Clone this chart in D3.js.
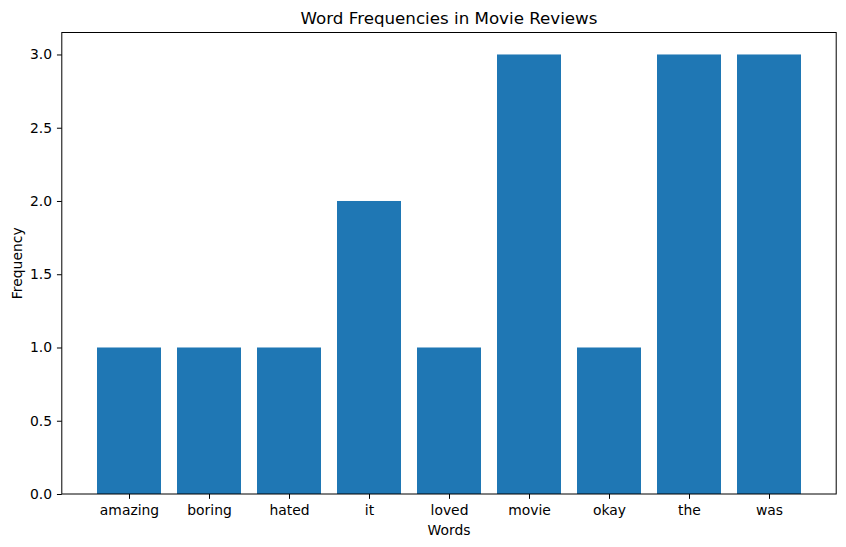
<!DOCTYPE html>
<html><head><meta charset="utf-8">
<script src="https://cdn.jsdelivr.net/npm/d3@7"></script>
<style>body{margin:0;background:#fff}svg{display:block;font-family:"DejaVu Sans",sans-serif}</style>
</head><body><svg id="c" width="846" height="547"></svg>
<script>
const categories = ["amazing","boring","hated","it","loved","movie","okay","the","was"];
const frequencies = [1,1,1,2,1,3,1,3,3];
const yTicks = [0,0.5,1.0,1.5,2.0,2.5,3.0];
const title = "Word Frequencies in Movie Reviews";
const xLabel = "Words";
const yLabel = "Frequency";

const svg = d3.select("#c");
const L = 61.8, R = 836.2, T = 32.5, B = 494;
const x = d3.scaleLinear().domain([-0.84, categories.length - 1 + 0.84]).range([L, R]);
const y = d3.scaleLinear().domain([0, 3.15]).range([B, T]);
const bw = 0.8;
const fs = "13.9px";

svg.selectAll("rect.bar").data(categories).enter().append("rect")
  .attr("class","bar")
  .attr("x", (d,i) => x(i - bw/2))
  .attr("width", (d,i) => x(i + bw/2) - x(i - bw/2))
  .attr("y", (d,i) => y(frequencies[i]))
  .attr("height", (d,i) => y(0) - y(frequencies[i]))
  .attr("fill", "#1f77b4");

const xAxis = d3.axisBottom(x).tickValues(d3.range(categories.length)).tickFormat(i => categories[i]).tickSize(4.86).tickPadding(4.86);
const gx = svg.append("g").attr("transform", `translate(0,${B})`).call(xAxis);
const yAxis = d3.axisLeft(y).tickValues(yTicks).tickFormat(d3.format(".1f")).tickSize(4.86).tickPadding(4.86);
const gy = svg.append("g").attr("transform", `translate(${L},0)`).call(yAxis);
[gx, gy].forEach(g => {
  g.select(".domain").remove();
  g.selectAll("text").attr("font-size", fs).attr("fill", "#000").attr("font-family", "DejaVu Sans, sans-serif");
  g.selectAll("line").attr("stroke", "#000").attr("stroke-width", 1);
});
gx.selectAll("text").attr("dy", "0.78em");

svg.append("rect").attr("x", L).attr("y", T).attr("width", R - L).attr("height", B - T)
  .attr("fill", "none").attr("stroke", "#000").attr("stroke-width", 1);

svg.append("text").attr("x", (L + R) / 2).attr("y", 24).attr("text-anchor", "middle")
  .attr("font-size", "16.7px").text(title);
svg.append("text").attr("x", (L + R) / 2).attr("y", 535).attr("text-anchor", "middle")
  .attr("font-size", fs).text(xLabel);
svg.append("text").attr("transform", `translate(22,${(T + B) / 2}) rotate(-90)`).attr("text-anchor", "middle")
  .attr("font-size", fs).text(yLabel);
</script></body></html>
